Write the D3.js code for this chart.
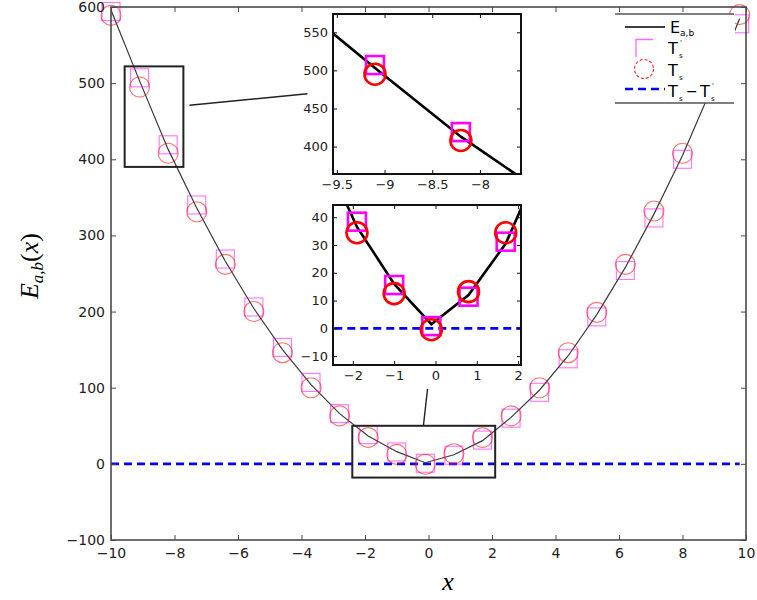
<!DOCTYPE html>
<html>
<head>
<meta charset="utf-8">
<script src="https://cdn.jsdelivr.net/npm/d3@7"></script>
<style>
body { margin: 0; background: #fff; }
text { font-family: "DejaVu Sans", sans-serif; }
</style>
</head>
<body>
<div id="chart"></div>
<script>
// sample points and the three series
var xs = [-10, -9.1, -8.2, -7.3, -6.4, -5.5, -4.6, -3.7, -2.8, -1.9, -1.0, -0.1,
          0.8, 1.7, 2.6, 3.5, 4.4, 5.3, 6.2, 7.1, 8.0, 8.9, 9.8];
var eVals   = [596, 503, 413, 336, 266, 204, 150, 104, 66, 36.5, 16, 1.5,
               12, 30.5, 61, 97, 142, 196, 258, 328, 405, 492, 585];
var tsVals  = [589, 495, 408, 331, 262, 200, 146, 100, 63, 34.4, 12.5, -0.5,
               13.2, 34.4, 63, 100, 146, 199, 262, 332, 408, 495, 590];
var tspVals = [594, 507, 419, 340, 269, 206, 153, 107, 66, 38.4, 15.6, 0.8,
               11.4, 31.2, 60, 94, 138, 193, 254, 323, 400, 488, 578];
var diffVals = [0, 0, 0, 0, 0, 0, 0, 0, 0, 0, 0, 0,
                0, 0, 0, 0, 0, 0, 0, 0, 0, 0, 0];

var xTicks = [-10, -8, -6, -4, -2, 0, 2, 4, 6, 8, 10];
var yTicks = [-100, 0, 100, 200, 300, 400, 500, 600];
var in1XTicks = [-9.5, -9, -8.5, -8];
var in1YTicks = [400, 450, 500, 550];
var in2XTicks = [-2, -1, 0, 1, 2];
var in2YTicks = [-10, 0, 10, 20, 30, 40];

// view limits
var mainX = [-10, 10], mainY = [-100, 600];
var in1X = [-9.54, -7.57], in1Y = [364, 574];
var in2X = [-2.48, 2.07], in2Y = [-13.2, 44.4];
var zoom1 = [[-9.57, -7.72], [390, 522]];
var zoom2 = [[-2.4, 2.1], [-18, 50]];

var pts = xs.map(function(x, i) {
  return { x: x, e: eVals[i], ts: tsVals[i], tsp: tspVals[i], d: diffVals[i] };
});

var fmt = function(d) { return String(d).replace("-", "\u2212"); };

var svg = d3.select("#chart").append("svg")
  .attr("width", 757)
  .attr("height", 600);

function panel(id, box, xd, yd, opt) {
  var x = d3.scaleLinear().domain(xd).range([box[0], box[1]]);
  var y = d3.scaleLinear().domain(yd).range([box[3], box[2]]);
  var g = svg.append("g").attr("class", id);

  g.append("rect")
    .attr("x", box[0]).attr("y", box[2])
    .attr("width", box[1] - box[0]).attr("height", box[3] - box[2])
    .attr("fill", "#fff");

  var clipId = "clip-" + id;
  g.append("clipPath").attr("id", clipId).append("rect")
    .attr("x", box[0]).attr("y", box[2])
    .attr("width", box[1] - box[0]).attr("height", box[3] - box[2]);
  var plot = g.append("g").attr("clip-path", "url(#" + clipId + ")");
  var marks = opt.clipMarks ? plot : g.append("g");

  plot.append("path").datum(pts)
    .attr("fill", "none")
    .attr("stroke", "#0000ff")
    .attr("stroke-width", 2.6)
    .attr("stroke-dasharray", "8,5")
    .attr("d", d3.line().x(function(d) { return x(d.x); }).y(function(d) { return y(d.d); }));

  plot.append("path").datum(pts)
    .attr("fill", "none")
    .attr("stroke", opt.lineColor)
    .attr("stroke-width", opt.lineWidth)
    .attr("d", d3.line().x(function(d) { return x(d.x); }).y(function(d) { return y(d.e); }));

  var s = opt.sq;
  marks.selectAll("rect.sq").data(pts).enter().append("rect")
    .attr("class", "sq")
    .attr("x", function(d) { return x(d.x) - s / 2; })
    .attr("y", function(d) { return y(d.tsp) - s / 2; })
    .attr("width", s).attr("height", s)
    .attr("fill", "none")
    .attr("stroke", "#ff00ff")
    .attr("stroke-opacity", opt.markOpacity)
    .attr("stroke-width", opt.markWidth);

  marks.selectAll("circle").data(pts).enter().append("circle")
    .attr("cx", function(d) { return x(d.x); })
    .attr("cy", function(d) { return y(d.ts); })
    .attr("r", opt.r)
    .attr("fill", "none")
    .attr("stroke", "#ff0000")
    .attr("stroke-opacity", opt.markOpacity)
    .attr("stroke-width", opt.markWidth);

  var fs = opt.fontSize;
  var ax = g.append("g").attr("transform", "translate(0," + box[3] + ")")
    .call(d3.axisBottom(x).tickValues(opt.xt).tickFormat(fmt).tickSize(-opt.tick).tickSizeOuter(0).tickPadding(opt.xpad));
  var ay = g.append("g").attr("transform", "translate(" + box[0] + ",0)")
    .call(d3.axisLeft(y).tickValues(opt.yt).tickFormat(fmt).tickSize(-opt.tick).tickSizeOuter(0).tickPadding(opt.ypad));
  var at = g.append("g").attr("transform", "translate(0," + box[2] + ")")
    .call(d3.axisTop(x).tickValues(opt.xt).tickSize(-opt.tick).tickSizeOuter(0).tickFormat(""));
  var ar = g.append("g").attr("transform", "translate(" + box[1] + ",0)")
    .call(d3.axisRight(y).tickValues(opt.yt).tickSize(-opt.tick).tickSizeOuter(0).tickFormat(""));
  [ax, ay, at, ar].forEach(function(a) {
    a.select(".domain").remove();
    a.selectAll("line").attr("stroke", opt.frame);
    a.selectAll("text").attr("font-size", fs).attr("fill", "#222")
      .attr("font-family", "DejaVu Sans");
  });

  g.append("rect")
    .attr("x", box[0]).attr("y", box[2])
    .attr("width", box[1] - box[0]).attr("height", box[3] - box[2])
    .attr("fill", "none")
    .attr("stroke", opt.frame)
    .attr("stroke-width", opt.frameWidth);

  return { x: x, y: y, g: g };
}

// main axes
var main = panel("main", [111, 746, 7, 540], mainX, mainY, {
  lineColor: "#3a3a3a", lineWidth: 1.2, sq: 18, r: 10,
  markOpacity: 0.55, markWidth: 1.1, fontSize: 14, tick: 5,
  xpad: 8, ypad: 6, xt: xTicks, yt: yTicks, frame: "#4a4a4a", frameWidth: 1.6,
  clipMarks: false
});

// zoom boxes and connectors on the main axes
[zoom1, zoom2].forEach(function(z) {
  svg.append("rect")
    .attr("x", main.x(z[0][0])).attr("y", main.y(z[1][1]))
    .attr("width", main.x(z[0][1]) - main.x(z[0][0]))
    .attr("height", main.y(z[1][0]) - main.y(z[1][1]))
    .attr("fill", "none").attr("stroke", "#222").attr("stroke-width", 2);
});
var connectors = [[[-7.53, 471], [-3.81, 486]], [[-0.16, 50], [-0.03, 98.4]]];
connectors.forEach(function(c) {
  svg.append("line")
    .attr("x1", main.x(c[0][0])).attr("y1", main.y(c[0][1]))
    .attr("x2", main.x(c[1][0])).attr("y2", main.y(c[1][1]))
    .attr("stroke", "#222").attr("stroke-width", 1.4);
});

var insetOpt = {
  lineColor: "#000", lineWidth: 2.6, sq: 18, r: 10.5,
  markOpacity: 1, markWidth: 2.6, fontSize: 13, tick: 4,
  xpad: 6, ypad: 5, frame: "#111", frameWidth: 2, clipMarks: true
};
panel("in1", [333, 521, 14, 174], in1X, in1Y,
  Object.assign({}, insetOpt, { xt: in1XTicks, yt: in1YTicks }));
panel("in2", [333, 521, 205, 365], in2X, in2Y,
  Object.assign({}, insetOpt, { xt: in2XTicks, yt: in2YTicks }));

// axis labels
svg.append("text")
  .attr("x", 448).attr("y", 590)
  .attr("text-anchor", "middle")
  .style("font-family", "Liberation Serif")
  .style("font-style", "italic")
  .attr("font-size", 26)
  .text("x");

var yl = svg.append("text")
  .attr("transform", "translate(38,266) rotate(-90)")
  .attr("text-anchor", "middle")
  .style("font-family", "Liberation Serif")
  .attr("font-size", 26);
yl.append("tspan").style("font-style", "italic").text("E");
yl.append("tspan").style("font-style", "italic").attr("font-size", 17).attr("dy", 5).text("a,b");
yl.append("tspan").attr("dy", -5).text("(");
yl.append("tspan").style("font-style", "italic").text("x");
yl.append("tspan").text(")");

// legend
var lg = svg.append("g").attr("class", "legend");
lg.append("rect").attr("x", 615).attr("y", 14).attr("width", 120).attr("height", 89).attr("fill", "#fff");
[14, 103].forEach(function(yy) {
  lg.append("line").attr("x1", 615).attr("x2", 734).attr("y1", yy).attr("y2", yy)
    .attr("stroke", "#555").attr("stroke-width", 1.5);
});
lg.append("line").attr("x1", 625).attr("x2", 665).attr("y1", 27).attr("y2", 27)
  .attr("stroke", "#000").attr("stroke-width", 1.5);
lg.append("path").attr("d", "M636,57V39.5H653")
  .attr("fill", "none").attr("stroke", "#ff66ff").attr("stroke-width", 1.3);
lg.append("circle").attr("cx", 644).attr("cy", 69).attr("r", 9.5)
  .attr("fill", "none").attr("stroke", "#ff3030").attr("stroke-width", 1.2)
  .attr("stroke-dasharray", "3,2");
lg.append("line").attr("x1", 625).attr("x2", 665).attr("y1", 89).attr("y2", 89)
  .attr("stroke", "#0000ff").attr("stroke-width", 2.6).attr("stroke-dasharray", "8,5");

function sym(x0, base, sup) {
  lg.append("text").attr("x", x0).attr("y", base).attr("font-size", 16).text("T");
  if (sup) lg.append("text").attr("x", x0 + 12).attr("y", base - 9).attr("font-size", 7).text("'");
  lg.append("text").attr("x", x0 + 11).attr("y", base + 4).attr("font-size", 7).text("s");
}
var et = lg.append("text").attr("x", 670).attr("y", 33).attr("font-size", 16);
et.append("tspan").text("E");
et.append("tspan").attr("font-size", 9).attr("dy", 3).text("a,b");
sym(668, 54, true);
sym(668, 76, false);
sym(668, 97, false);
lg.append("text").attr("x", 686).attr("y", 96).attr("font-size", 14).text("\u2212");
sym(700, 97, true);
</script>
</body>
</html>
